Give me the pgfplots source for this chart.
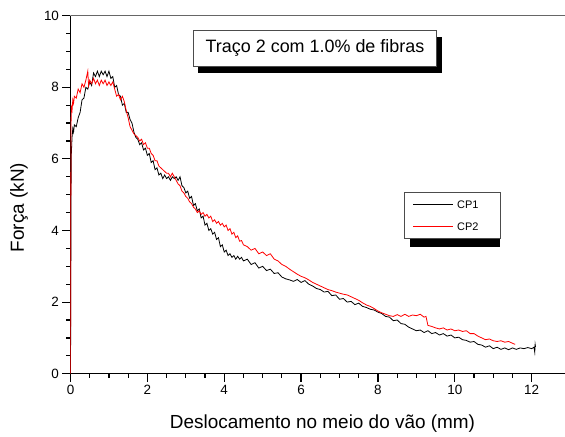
\documentclass[border=0pt]{standalone}
\usepackage{pgfplots}
\pgfplotsset{compat=1.18}
\usepackage{fontspec}
\setmainfont{Liberation Sans}
\usetikzlibrary{shadows}
\begin{document}
\begin{tikzpicture}
\begin{axis}[
  scale only axis,
  width=507.3bp, height=358bp,
  xmin=0, xmax=13.2, ymin=0, ymax=10,
  xtick={0,2,...,12}, ytick={0,2,...,10},
  minor x tick num=3, minor y tick num=3,
  axis x line*=bottom, axis y line*=left,
  axis line style={black, line width=1.3bp},
  tick align=outside,
  major tick length=8bp, minor tick length=4bp,
  every tick/.style={black, line width=1.2bp},
  tick label style={font=\fontsize{13.5}{14}\selectfont},
  /pgf/number format/assume math mode=true,
  xlabel={Deslocamento no meio do vão (mm)},
  ylabel={Força (kN)},
  label style={font=\fontsize{19}{20}\selectfont, inner sep=0pt},
  xlabel style={at={(axis description cs:0.4967,-0.1517)}, anchor=base},
  ylabel style={at={(axis description cs:-0.1193,0.4645)}, rotate=0, anchor=north},
  legend style={at={(axis description cs:0.6574,0.5067)}, anchor=north west,
    draw=black!70, line width=0.8bp, fill=white,
    font=\fontsize{11}{12}\selectfont,
    inner xsep=8.7bp, inner ysep=8bp, row sep=14bp, column sep=3.3bp,
    nodes={inner sep=0pt, text depth=0pt}},
  legend cell align=left,
  legend image code/.code={\draw[#1, line width=0.8bp] (0bp,0bp) -- (40bp,0bp);},
]
\fill[black] (axis cs:8.834,3.539) rectangle (axis cs:11.176,4.899);
\addplot[black, line width=0.8bp] coordinates {
(0,0) (0.005,1.5) (0.01,3.5) (0.015,5.2) (0.02,6.1) (0.04,6.6) (0.06,6.85) (0.08,6.75)
(0.10,6.95) (0.15,6.9) (0.20,7.15) (0.25,7.3) (0.30,7.65) (0.35,7.7) (0.40,8.0) (0.45,7.95)
(0.50,8.15) (0.55,8.05) (0.60,8.4) (0.65,8.3) (0.70,8.45) (0.75,8.3) (0.80,8.45) (0.85,8.35)
(0.90,8.45) (0.95,8.3) (1.00,8.45) (1.05,8.25) (1.10,8.3) (1.15,8.0) (1.20,8.05) (1.25,7.8)
(1.30,7.75) (1.35,7.5) (1.40,7.55) (1.45,7.3) (1.50,7.3) (1.55,7.1) (1.60,7.0) (1.65,6.75)
(1.70,6.6) (1.75,6.55) (1.80,6.4) (1.85,6.45) (1.90,6.25) (1.95,6.3) (2.00,6.1) (2.05,6.15)
(2.10,5.9) (2.15,5.95) (2.20,5.7) (2.25,5.75) (2.30,5.55) (2.35,5.6) (2.40,5.45) (2.45,5.55)
(2.50,5.45) (2.55,5.5) (2.60,5.4) (2.65,5.5) (2.70,5.45) (2.75,5.5) (2.80,5.4) (2.85,5.5)
(2.90,5.25) (2.95,5.2) (3.00,5.05) (3.05,5.1) (3.10,4.9) (3.15,4.95) (3.20,4.7) (3.25,4.75)
(3.30,4.55) (3.35,4.6) (3.40,4.35) (3.45,4.4) (3.50,4.15) (3.55,4.2) (3.60,4.0) (3.65,4.05)
(3.70,3.9) (3.75,3.95) (3.80,3.75) (3.85,3.8) (3.90,3.55) (3.95,3.6) (4.00,3.4) (4.05,3.45)
(4.10,3.3) (4.15,3.35) (4.20,3.25) (4.25,3.3) (4.30,3.2) (4.35,3.28) (4.40,3.2) (4.45,3.25)
(4.50,3.15) (4.6,3.2) (4.7,3.05) (4.8,3.1) (4.9,2.95) (5.0,3.0) (5.1,2.88) (5.2,2.92)
(5.3,2.8) (5.4,2.82) (5.5,2.7) (5.6,2.65) (5.7,2.62) (5.8,2.58) (5.9,2.63) (6.0,2.55)
(6.1,2.6) (6.2,2.5) (6.3,2.45) (6.4,2.38) (6.5,2.35) (6.6,2.28) (6.7,2.3) (6.8,2.18)
(6.9,2.2) (7.0,2.08) (7.1,2.1) (7.2,2.0) (7.3,2.02) (7.4,1.93) (7.5,1.97) (7.6,1.88)
(7.7,1.85) (7.8,1.8) (7.9,1.78) (8.0,1.72) (8.1,1.68) (8.2,1.6) (8.3,1.58) (8.4,1.48)
(8.5,1.5) (8.6,1.4) (8.7,1.38) (8.8,1.3) (8.9,1.25) (9.0,1.2) (9.1,1.22) (9.2,1.15)
(9.3,1.2) (9.4,1.12) (9.5,1.15) (9.6,1.08) (9.7,1.12) (9.8,1.05) (9.9,1.08) (10.0,1.0)
(10.1,1.02) (10.2,0.95) (10.3,0.93) (10.4,0.88) (10.5,0.9) (10.6,0.82) (10.7,0.8) (10.8,0.74)
(10.9,0.78) (11.0,0.7) (11.1,0.74) (11.2,0.68) (11.3,0.72) (11.4,0.67) (11.5,0.72) (11.6,0.68)
(11.7,0.72) (11.8,0.7) (11.9,0.73) (12.0,0.7) (12.06,0.74) (12.08,0.6) (12.09,0.82) (12.1,0.75)
};
\addlegendentry{CP1\hspace*{13bp}}
\addplot[red, line width=0.8bp] coordinates {
(0,0) (0.005,2.5) (0.01,5.5) (0.015,7.0) (0.02,7.45) (0.04,7.35) (0.06,7.65) (0.08,7.55)
(0.10,7.75) (0.15,7.7) (0.20,7.95) (0.25,7.85) (0.30,8.1) (0.35,8.0) (0.40,8.2) (0.45,8.45)
(0.47,8.05) (0.50,8.2) (0.55,8.1) (0.60,8.25) (0.65,8.1) (0.70,8.2) (0.75,8.05) (0.80,8.2)
(0.85,8.1) (0.90,8.2) (0.95,8.05) (1.00,8.15) (1.05,8.05) (1.10,8.15) (1.15,7.95) (1.20,7.75)
(1.25,7.8) (1.30,7.65) (1.35,7.75) (1.40,7.6) (1.45,7.35) (1.50,7.15) (1.55,6.9) (1.60,6.8)
(1.65,6.7) (1.70,6.65) (1.75,6.6) (1.80,6.5) (1.85,6.55) (1.90,6.4) (1.95,6.45) (2.00,6.3)
(2.05,6.3) (2.10,6.15) (2.15,6.1) (2.20,5.95) (2.25,5.95) (2.30,5.8) (2.35,5.75) (2.40,5.7)
(2.45,5.65) (2.50,5.6) (2.55,5.6) (2.60,5.5) (2.65,5.6) (2.70,5.5) (2.75,5.4) (2.80,5.3)
(2.85,5.25) (2.90,5.1) (2.95,5.05) (3.00,4.95) (3.05,4.9) (3.10,4.8) (3.15,4.75) (3.20,4.65)
(3.25,4.6) (3.30,4.5) (3.35,4.55) (3.40,4.45) (3.45,4.5) (3.50,4.4) (3.55,4.45) (3.60,4.35)
(3.65,4.4) (3.70,4.25) (3.75,4.3) (3.80,4.2) (3.85,4.25) (3.90,4.15) (3.95,4.2) (4.00,4.1)
(4.05,4.15) (4.10,4.0) (4.15,4.05) (4.20,3.9) (4.25,3.95) (4.30,3.8) (4.35,3.85) (4.40,3.7)
(4.45,3.72) (4.50,3.6) (4.6,3.55) (4.7,3.45) (4.8,3.5) (4.9,3.35) (5.0,3.4) (5.1,3.3)
(5.2,3.35) (5.3,3.2) (5.4,3.15) (5.5,3.05) (5.6,3.0) (5.7,2.92) (5.8,2.85) (5.9,2.78)
(6.0,2.72) (6.1,2.68) (6.2,2.62) (6.3,2.55) (6.4,2.5) (6.5,2.45) (6.6,2.4) (6.7,2.35)
(6.8,2.32) (6.9,2.28) (7.0,2.25) (7.1,2.22) (7.2,2.2) (7.3,2.15) (7.4,2.1) (7.5,2.05)
(7.6,1.98) (7.7,1.92) (7.8,1.88) (7.9,1.82) (8.0,1.75) (8.1,1.7) (8.2,1.66) (8.3,1.62)
(8.4,1.6) (8.5,1.65) (8.6,1.6) (8.7,1.66) (8.8,1.6) (8.9,1.64) (9.0,1.62) (9.1,1.66)
(9.2,1.58) (9.25,1.6) (9.3,1.35) (9.4,1.32) (9.5,1.28) (9.6,1.25) (9.7,1.28) (9.8,1.22)
(9.9,1.25) (10.0,1.2) (10.1,1.22) (10.2,1.18) (10.3,1.2) (10.4,1.12) (10.5,1.12) (10.6,1.05)
(10.7,1.0) (10.8,0.95) (10.9,0.97) (11.0,0.92) (11.1,0.9) (11.2,0.92) (11.3,0.88) (11.4,0.9)
(11.5,0.85) (11.57,0.82)
};
\addlegendentry{CP2\hspace*{13bp}}
\draw[black!60, line width=1bp] (rel axis cs:0,1) -- (rel axis cs:1,1);
\node[draw=black!70, line width=0.8bp, fill=white, minimum width=243.4bp, minimum height=36bp,
  font=\fontsize{18}{20}\selectfont,
  drop shadow={shadow xshift=5bp, shadow yshift=-7bp, fill=black, opacity=1}]
  at (axis cs:6.362,9.098) {Traço 2 com 1.0\% de fibras};
\end{axis}
\pgfresetboundingbox
\path[use as bounding box] (-70.5bp,-63.3bp) rectangle (494.5bp,373.7bp);
\end{tikzpicture}
\end{document}
